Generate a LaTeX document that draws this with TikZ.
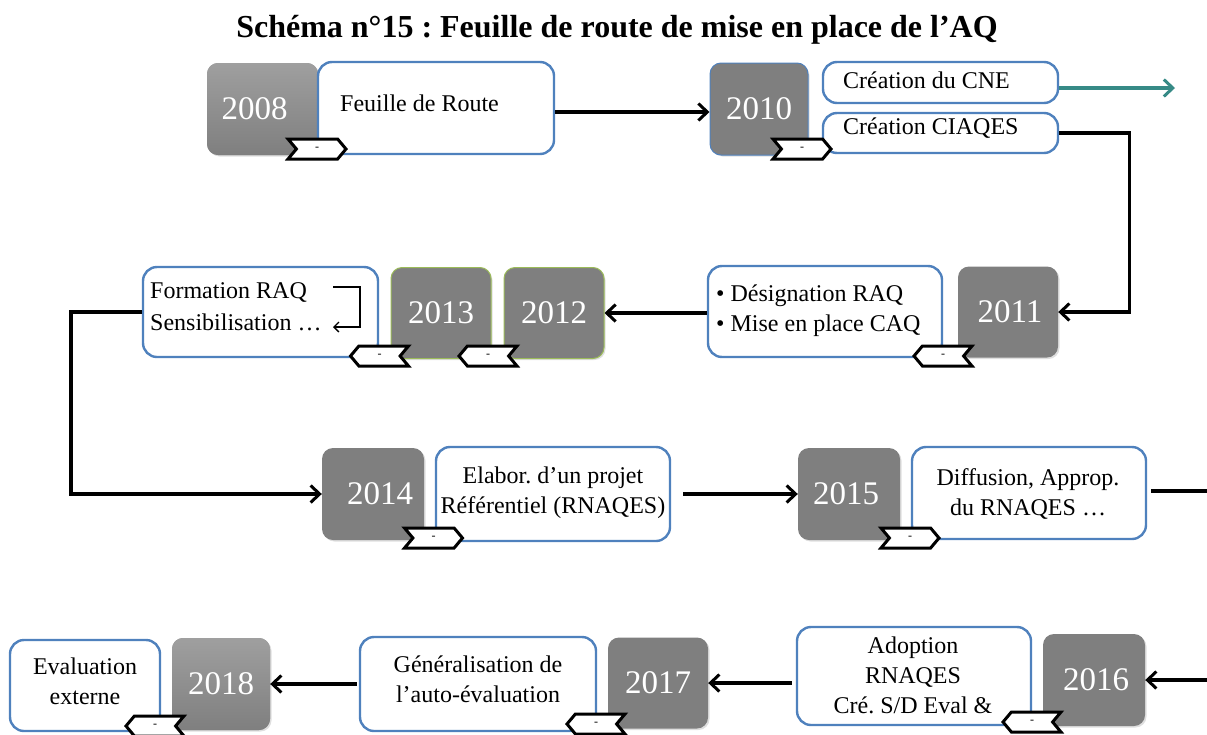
\documentclass[tikz,border=0pt]{standalone}
\usepackage{fontspec}
\setmainfont{Liberation Serif}
\usetikzlibrary{arrows.meta,shapes.symbols,shadows}
\definecolor{yeargray}{HTML}{7F7F7F}
\definecolor{boxblue}{HTML}{4F81BD}
\definecolor{yeargreen}{HTML}{9BBB59}
\definecolor{cneteal}{HTML}{368A86}
\frenchspacing
\begin{document}
\begin{tikzpicture}[x=1pt,y=-1pt,
  yearbox/.style={rounded corners=11pt, fill=yeargray, text=white, inner sep=0pt,
    minimum width=100pt, minimum height=91pt,
    drop shadow={opacity=0.25, shadow xshift=1.5pt, shadow yshift=-1.5pt},
    font=\fontsize{33}{35}\selectfont},
  textbox/.style={draw=boxblue, line width=2.4pt, rounded corners=14pt, fill=white,
    inner sep=0pt, minimum width=235pt, minimum height=92pt},
  boxtext/.style={font=\fontsize{24}{30}\selectfont, inner sep=0pt, align=center},
  tagbase/.style={shape=signal, draw=black, line width=3pt, fill=white, inner sep=0pt,
    minimum width=58pt, minimum height=20pt, signal pointer angle=100,
    font=\fontsize{12}{12}\selectfont},
  tagright/.style={tagbase, signal to=east, signal from=west},
  tagleft/.style={tagbase, signal to=west, signal from=east},
  tip/.style={-{Straight Barb[length=9pt,width=17pt,line width=3pt]}},
  arr/.style={line width=3.4pt, tip},
  link/.style={line width=3.4pt},
  small/.style={line width=1.3pt, -{Straight Barb[length=5pt,width=10pt,line width=1.3pt]}}
]
\useasboundingbox (0,0) rectangle (1207,734);

% title
\node[font=\bfseries\fontsize{32}{34}\selectfont, inner sep=0pt] (title) at (617,30)
  {Schéma n°15 : Feuille de route de mise en place de l’AQ};

% ---- year boxes and text boxes
\node[yearbox, minimum width=111pt, minimum height=92pt,
  top color=yeargray!75, bottom color=yeargray] (y2008) at (262.5,109) {\hspace*{-16pt}2008};
\node[textbox, minimum width=236pt] (feuille) at (436,108) {};
\node[boxtext, anchor=west] (feuilleT) at (340,103) {Feuille de Route};

\node[yearbox, draw=boxblue, line width=1pt, minimum width=98pt, minimum height=92pt]
  (y2010) at (759,109) {2010};
\node[textbox, minimum height=41pt] (cne) at (940.5,82.5) {};
\node[boxtext, anchor=west] (cneT) at (843,80) {Création du CNE};
\node[textbox, minimum height=40pt] (ciaqes) at (940.5,133) {};
\node[boxtext, anchor=west] (ciaqesT) at (843,128) {Création CIAQES};

\node[yearbox] (y2011) at (1008,312) {\hspace*{4pt}2011};
\node[textbox, minimum width=234pt, minimum height=91pt] (desig) at (825,311.5) {};
\node[boxtext, anchor=west] (desigA) at (716,296) {• Désignation RAQ};
\node[boxtext, anchor=west] (desigB) at (716,326) {• Mise en place CAQ};

\node[yearbox, draw=yeargreen, line width=1pt] (y2012) at (554,313) {2012};
\node[yearbox, draw=yeargreen, line width=1pt] (y2013) at (441,313) {2013};
\node[textbox, minimum height=90pt] (form) at (260.5,312) {};
\node[boxtext, anchor=west] (formA) at (150,292) {Formation RAQ};
\node[boxtext, anchor=west] (formB) at (150,322) {Sensibilisation …};
\coordinate (loopA) at (333,287);
\coordinate (loopB) at (333,327);
\draw[small] (loopA) -- (360,287) -- (360,327) -- (loopB);

\node[yearbox, minimum width=102pt, minimum height=92pt] (y2014) at (373,494) {\hspace*{14pt}2014};
\node[textbox, minimum width=234pt, minimum height=94pt] (elab) at (553,494) {};
\node[boxtext] (elabT) at (553,493) {Elabor. d’un projet\\Référentiel (RNAQES)};

\node[yearbox, minimum width=102pt, minimum height=92pt] (y2015) at (849,494) {\hspace*{-6pt}2015};
\node[textbox, minimum width=234pt] (diff) at (1029,493) {};
\node[boxtext] (diffT) at (1028,494) {Diffusion, Approp.\\du RNAQES …};

\node[yearbox, minimum width=102pt, minimum height=92pt] (y2016) at (1094,680) {\hspace*{4pt}2016};
\node[textbox, minimum width=234pt, minimum height=98pt] (adopt) at (914,676) {};
\node[boxtext] (adoptT) at (913,675.5) {Adoption\\RNAQES\\Cré. S/D Eval \&};

\node[yearbox] (y2017) at (658,683) {2017};
\node[textbox, minimum width=236pt, minimum height=94pt] (gen) at (478,684) {};
\node[boxtext] (genT) at (478,679.5) {Généralisation de\\l’auto-évaluation};

\node[yearbox, minimum width=98pt, minimum height=92pt,
  top color=yeargray!75, bottom color=yeargray] (y2018) at (221,684) {2018};
\node[textbox, minimum width=150pt, minimum height=91pt] (eval) at (85,685.5) {};
\node[boxtext] (evalT) at (85,681) {Evaluation\\externe};

% ---- date tags (drawn on top of the boxes)
\node[tagright] (t2008) at (317,149) {-};
\node[tagright] (t2010) at (802,149) {-};
\node[tagleft] (t2011) at (943,356) {-};
\node[tagleft] (t2012) at (488,356) {-};
\node[tagleft] (t2013) at (379.5,356) {-};
\node[tagright] (t2014) at (433.5,538) {-};
\node[tagright] (t2015) at (910,538) {-};
\node[tagleft] (t2016) at (1032,722) {-};
\node[tagleft] (t2017) at (596,724) {-};
\node[tagleft] (t2018) at (155,726) {-};

% ---- connectors
\coordinate (cneEnd) at (1175,88);
\coordinate (outR) at (1207,491);
\coordinate (inR) at (1207,680);

\draw[arr] (feuille.east |- 0,112) -- (y2010.west |- 0,112);
\draw[line width=3.4pt, cneteal, tip] (cne.east |- cneEnd) -- (cneEnd);
\draw[arr] (ciaqes.east) -- ++(70,0) |- (y2011.east);
\draw[arr] (desig.west |- y2012.east) -- (y2012.east);
\draw[arr] (form.west) -- ++(-71,0) |- (y2014.west);
\draw[arr, shorten <=12pt] (elab.east) -- (y2015.west);
\draw[link, shorten <=4pt] (diff.east |- outR) -- (outR);
\draw[arr] (inR) -- (y2016.east);
\draw[arr, shorten <=4pt] (adopt.west |- y2017.east) -- (y2017.east);
\draw[arr, shorten <=2pt] (gen.west |- y2018.east) -- (y2018.east);
\end{tikzpicture}
\end{document}
